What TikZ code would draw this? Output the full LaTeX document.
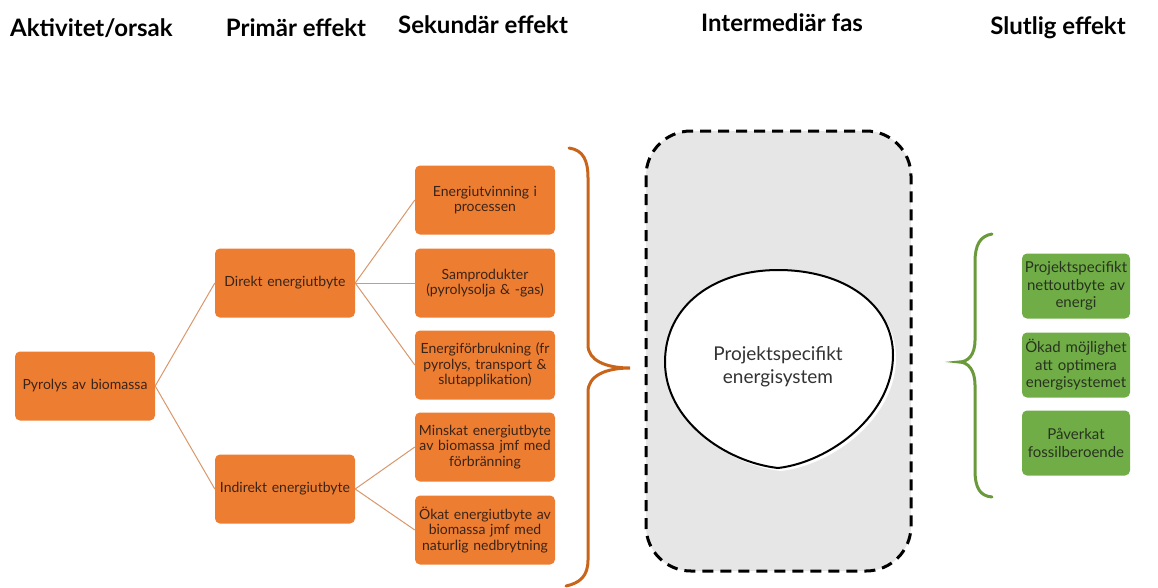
\documentclass[tikz,border=0pt]{standalone}
\usepackage{fontspec}
\setmainfont{Lato}
\usetikzlibrary{positioning}
\definecolor{obox}{HTML}{ED7D31}
\definecolor{otext}{HTML}{3A2418}
\definecolor{oline}{HTML}{D9976B}
\definecolor{obrace}{HTML}{C8651B}
\definecolor{gbox}{HTML}{70AD47}
\definecolor{gbrace}{HTML}{6A9A3C}
\definecolor{gtext}{HTML}{28331F}
\definecolor{panel}{HTML}{E6E6E6}
\tikzset{
  header/.style={font=\bfseries\fontsize{24}{28}\selectfont, text=black, inner sep=0pt, anchor=base},
  obx/.style={fill=obox, rounded corners=5pt, minimum width=140pt, minimum height=69pt,
    inner sep=0pt, text width=138pt, align=center, text=otext,
    font=\fontsize{14}{15.5}\selectfont},
  gbx/.style={fill=gbox, rounded corners=5pt, minimum width=108pt, minimum height=65pt,
    inner sep=0pt, text width=106pt, align=center, text=gtext,
    font=\fontsize{15}{17.5}\selectfont},
  conn/.style={draw=oline, line width=1pt},
}
\begin{document}
\begin{tikzpicture}[x=1pt,y=-1pt]
\useasboundingbox (0,0) rectangle (1158,587);
% headers
\node[header, anchor=base west] (h1) at (10,36) {Aktivitet/orsak};
\node[header] (h2) at (296,36) {Primär effekt};
\node[header] (h3) at (483,33) {Sekundär effekt};
\node[header] (h4) at (782,31) {Intermediär fas};
\node[header] (h5) at (1058,34) {Slutlig effekt};
% orange boxes
\node[obx] (pyr) at (85,386) {Pyrolys av biomassa};
\node[obx] (dir) at (285,283) {Direkt energiutbyte};
\node[obx] (ind) at (285,489) {Indirekt energiutbyte};
\node[obx] (s1) at (485,200) {Energiutvinning i\\processen};
\node[obx] (s2) at (485,283) {Samprodukter\\(pyrolysolja \& -gas)};
\node[obx] (s3) at (485,365) {Energiförbrukning (fr\\pyrolys, transport \&\\slutapplikation)};
\node[obx] (s4) at (485,447) {Minskat energiutbyte\\av biomassa jmf med\\förbränning};
\node[obx] (s5) at (485,530) {Ökat energiutbyte av\\biomassa jmf med\\naturlig nedbrytning};
% connectors
\draw[conn] (pyr.east) -- (dir.west);
\draw[conn] (pyr.east) -- (ind.west);
\draw[conn] (dir.east) -- (s1.west);
\draw[conn] (dir.east) -- (s2.west);
\draw[conn] (dir.east) -- (s3.west);
\draw[conn] (ind.east) -- (s4.west);
\draw[conn] (ind.east) -- (s5.west);
% orange brace
\draw[obrace, line width=3pt, line cap=round]
  (569,148) .. controls (583,150) and (588,160) .. (588,178) -- (588,345)
  .. controls (588,360) and (605,368) .. (630,368)
  .. controls (605,368) and (588,376) .. (588,392) -- (588,560)
  .. controls (588,576) and (580,583) .. (566,586);
% intermediate panel
\draw[fill=panel, draw=black, line width=3pt, dash pattern=on 11pt off 7pt, rounded corners=45pt]
  (646,131) rectangle (911,571);
\fill[white] (668,365) .. controls (668,308) and (718,273) .. (781,273)
  .. controls (848,273) and (896,308) .. (896,358)
  .. controls (896,418) and (833,465) .. (781,471)
  .. controls (728,465) and (668,423) .. (668,365) -- cycle;
\draw[fill=white, line width=2pt]
  (665,362) .. controls (665,305) and (715,270) .. (778,270)
  .. controls (845,270) and (893,305) .. (893,355)
  .. controls (893,415) and (830,462) .. (778,468)
  .. controls (725,462) and (665,420) .. (665,362) -- cycle;
\node[align=center, text=black!80, font=\fontsize{19}{23}\selectfont] (sys) at (778,367) {Projektspecifikt\\energisystem};
% green brace
\draw[gbrace, line width=3pt, line cap=round]
  (992,234) .. controls (980,236) and (975,245) .. (975,262) -- (975,340)
  .. controls (975,355) and (968,362) .. (959,362)
  .. controls (968,362) and (975,370) .. (975,385) -- (975,470)
  .. controls (975,488) and (980,496) .. (992,497);
% green boxes
\node[gbx] (g1) at (1076,286) {Projektspecifikt\\nettoutbyte av\\energi};
\node[gbx] (g2) at (1076,365) {Ökad möjlighet\\att optimera\\energisystemet};
\node[gbx] (g3) at (1076,443) {Påverkat\\fossilberoende};
\end{tikzpicture}
\end{document}
